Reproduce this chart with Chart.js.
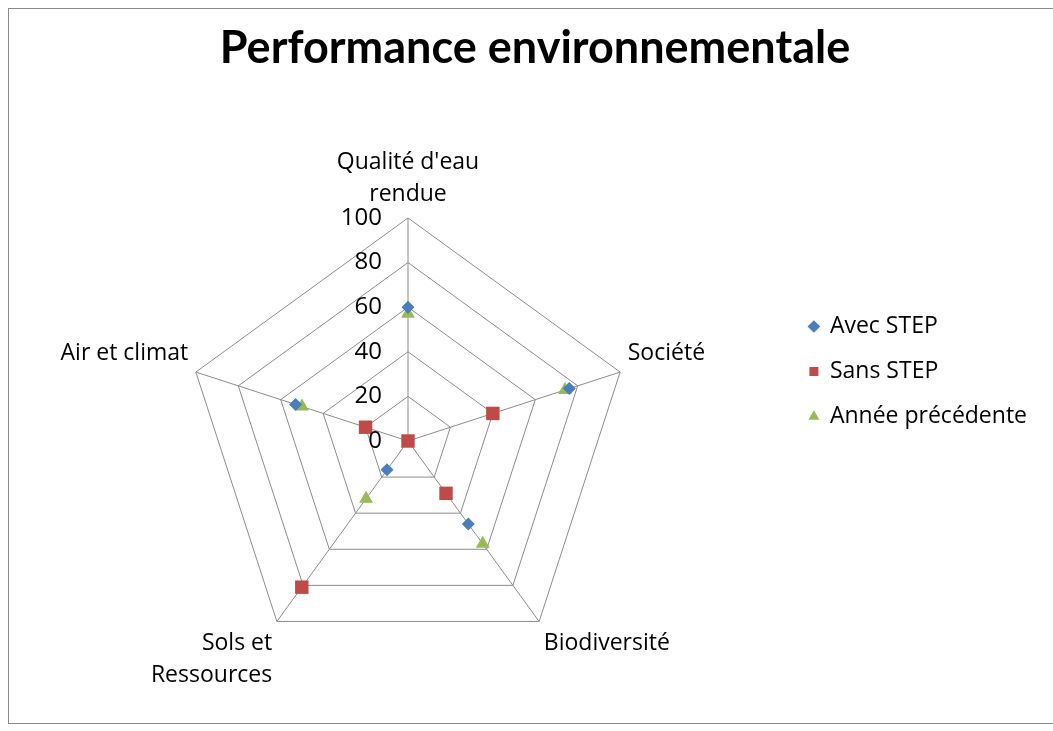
<!DOCTYPE html>
<html>
<head>
<meta charset="utf-8">
<script src="https://cdn.jsdelivr.net/npm/chart.js@4.4.1/dist/chart.umd.min.js"></script>
<style>
  html, body { margin: 0; padding: 0; background: #fff; overflow: hidden; }
  #frame { position: absolute; left: 8px; top: 8px; width: 1100px; height: 716px; border: 1px solid #8a8a8a; box-sizing: border-box; background: #fff; }
  canvas { position: absolute; left: -5px; top: 0; }
</style>
</head>
<body>
<div id="frame"><canvas id="c" width="1049" height="714"></canvas></div>
<script>
const categories = [["Qualité d'eau", "rendue"], "Société", "Biodiversité", ["Sols et", "Ressources"], "Air et climat"];
const seriesNames = ["Avec STEP", "Sans STEP", "Année précédente"];
const avecSTEP = [60, 76, 46, 16, 53];
const sansSTEP = [0, 40, 29, 81, 20];
const anneePrecedente = [57, 74, 57, 32, 50];
const tickValues = [0, 20, 40, 60, 80, 100];

const FONT = "'Open Sans', sans-serif";

const tickLabelPlugin = {
  id: 'tickLabels',
  afterDatasetsDraw(chart) {
    const s = chart.scales.r;
    const ctx = chart.ctx;
    ctx.save();
    ctx.font = "24px " + FONT;
    ctx.fillStyle = '#000';
    ctx.textAlign = 'right';
    ctx.textBaseline = 'middle';
    tickValues.forEach(v => {
      const d = s.getDistanceFromCenterForValue(v);
      ctx.fillText(String(v), s.xCenter - 26, s.yCenter - d);
    });
    ctx.restore();
  }
};

// Center the title over the whole frame rather than the padded layout box
const titleCenterPlugin = {
  id: 'titleCenter',
  afterLayout(chart) {
    const tb = chart.titleBlock;
    if (tb) {
      tb.left = 0;
      tb.right = 1062;
      tb.width = 1062;
    }
  }
};

new Chart(document.getElementById('c'), {
  type: 'radar',
  data: {
    labels: categories,
    datasets: [
      { label: seriesNames[0], data: avecSTEP, pointStyle: 'rectRot', pointRadius: 6.5, pointHoverRadius: 6.5,
        backgroundColor: '#4a7ebb', borderColor: '#4a7ebb', pointBackgroundColor: '#4a7ebb', pointBorderColor: '#4a7ebb', pointBorderWidth: 0, showLine: false, fill: false },
      { label: seriesNames[1], data: sansSTEP, pointStyle: 'rect', pointRadius: 9.5, pointHoverRadius: 9.5,
        backgroundColor: '#be4b48', borderColor: '#be4b48', pointBackgroundColor: '#be4b48', pointBorderColor: '#be4b48', pointBorderWidth: 0, showLine: false, fill: false },
      { label: seriesNames[2], data: anneePrecedente, pointStyle: 'triangle', pointRadius: 8, pointHoverRadius: 8,
        backgroundColor: '#98b954', borderColor: '#98b954', pointBackgroundColor: '#98b954', pointBorderColor: '#98b954', pointBorderWidth: 0, showLine: false, fill: false }
    ]
  },
  options: {
    responsive: false,
    animation: false,
    layout: { padding: { left: 0, right: 16, top: 0, bottom: 14 } },
    plugins: {
      title: {
        display: true,
        text: 'Performance environnementale',
        color: '#000',
        font: { family: "Lato, sans-serif", size: 45, weight: 'bold', lineHeight: 1.2 },
        padding: { top: 12, bottom: 44 }
      },
      legend: {
        position: 'right',
        align: 'start',
        title: { display: true, text: '', font: { size: 10, lineHeight: 1 }, padding: { top: 274, bottom: 0 } },
        labels: {
          usePointStyle: true,
          boxWidth: 9,
          boxHeight: 9,
          padding: 22,
          color: '#000',
          font: { family: FONT, size: 23 }
        }
      },
      tooltip: { enabled: false }
    },
    scales: {
      r: {
        min: 0,
        max: 100,
        ticks: { stepSize: 20, display: false },
        grid: { color: '#8c8c8c', lineWidth: 1 },
        angleLines: { color: '#8c8c8c', lineWidth: 1 },
        pointLabels: {
          color: '#000',
          padding: 8,
          font: { family: FONT, size: 23, lineHeight: 1.39 }
        }
      }
    }
  },
  plugins: [tickLabelPlugin, titleCenterPlugin]
});
</script>
</body>
</html>
